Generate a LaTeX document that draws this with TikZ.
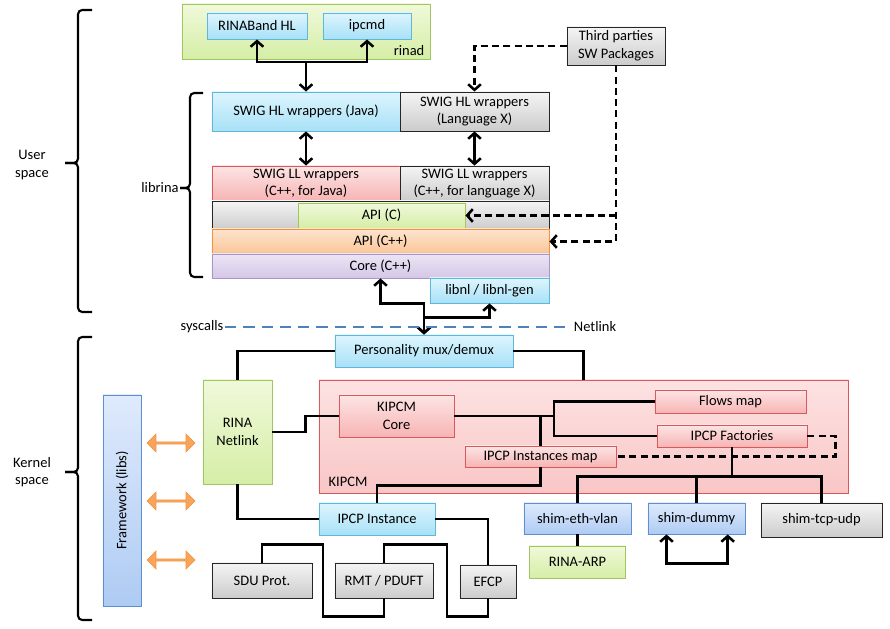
\documentclass[tikz,border=0pt]{standalone}
\usepackage{fontspec}
\setmainfont{Carlito}
\usetikzlibrary{arrows.meta,shapes.arrows}

\definecolor{bluetop}{HTML}{DDF5FE}
\definecolor{bluebot}{HTML}{A8E1F7}
\definecolor{blueline}{HTML}{62B6D8}
\definecolor{shimtop}{HTML}{DFEAFC}
\definecolor{shimbot}{HTML}{AECBF3}
\definecolor{shimline}{HTML}{5F8FD0}
\definecolor{greentop}{HTML}{F0F9DA}
\definecolor{greenbot}{HTML}{D5EEA6}
\definecolor{greenline}{HTML}{A0C561}
\definecolor{pinktop}{HTML}{FDE4E4}
\definecolor{pinkbot}{HTML}{F7B4B4}
\definecolor{pinkline}{HTML}{D65A5C}
\definecolor{kipcmtop}{HTML}{FDE2E2}
\definecolor{kipcmbot}{HTML}{F9C6C6}
\definecolor{graytop}{HTML}{F4F4F4}
\definecolor{graybot}{HTML}{CCCCCC}
\definecolor{orangetop}{HTML}{FDE4CE}
\definecolor{orangebot}{HTML}{FAC597}
\definecolor{orangeline}{HTML}{F3923E}
\definecolor{purpletop}{HTML}{ECE5F5}
\definecolor{purplebot}{HTML}{D4C7E7}
\definecolor{purpleline}{HTML}{A996C8}
\definecolor{syscallblue}{HTML}{4F81BD}
\definecolor{arroworange}{HTML}{F8A45C}

\begin{document}
\begin{tikzpicture}[x=0.025cm, y=-0.025cm,
        box/.style={draw, inner sep=1pt, align=center, font=\fontsize{10.3}{12.5}\selectfont, line width=0.6pt},
        bluebox/.style={box, draw=blueline, top color=bluetop, bottom color=bluebot},
        shimbox/.style={box, draw=shimline, top color=shimtop, bottom color=shimbot},
        greenbox/.style={box, draw=greenline, top color=greentop, bottom color=greenbot},
        pinkbox/.style={box, draw=pinkline, top color=pinktop, bottom color=pinkbot},
        graybox/.style={box, draw=black!85, top color=graytop, bottom color=graybot},
        note/.style={font=\fontsize{10.3}{12.5}\selectfont, align=center, inner sep=1pt},
        conn/.style={line width=1.8pt, >={Straight Barb[length=4pt,width=9pt]}},
        dconn/.style={conn, dash pattern=on 5pt off 3pt},
        syscall/.style={syscallblue, line width=1.4pt, dash pattern=on 8pt off 5pt},
        bracket/.style={line width=1.5pt, rounded corners=3pt},
        fatarrow/.style={double arrow, draw=orangeline, fill=arroworange, inner sep=0pt,
            minimum height=1.2cm, minimum width=0.45cm, double arrow head extend=0.05cm}
    ]
    \useasboundingbox (0,0) rectangle (890,629);

    % User / Kernel space brackets
    \draw[bracket] (92,10) -- (78,10) -- (78,163) -- (65,163);
    \draw[bracket] (65,163) -- (78,163) -- (78,312) -- (92,312);
    \node[note] (user) at (32,165) {User\\space};
    \draw[bracket] (92,337) -- (78,337) -- (78,472) -- (65,472);
    \draw[bracket] (65,472) -- (78,472) -- (78,620) -- (92,620);
    \node[note] (kernel) at (32,472) {Kernel\\space};

    % rinad
    \node[greenbox, minimum width=6.2cm, minimum height=1.375cm] (rinad) at (306,31.5) {};
    \node[note, anchor=south east] (rinadlbl) at (426,57) {rinad};
    \node[bluebox, minimum width=2.5cm, minimum height=0.65cm] (rinaband) at (257,26) {RINABand HL};
    \node[bluebox, minimum width=2.2cm, minimum height=0.65cm] (ipcmd) at (367,26) {ipcmd};
    \coordinate (rinadjoin) at (306,62);

    % Third parties
    \node[graybox, minimum width=2.45cm, minimum height=0.95cm] (third) at (616,46) {Third parties\\SW Packages};

    % librina
    \draw[bracket] (203,93) -- (190,93) -- (190,188) -- (180,188);
    \draw[bracket] (180,188) -- (190,188) -- (190,277) -- (203,277);
    \node[note] (librina) at (160,188) {librina};
    \node[bluebox, minimum width=4.7cm, minimum height=0.975cm] (hljava) at (306,111.5) {SWIG HL wrappers (Java)};
    \node[graybox, minimum width=3.725cm, minimum height=0.975cm] (hlx) at (474.5,111.5) {SWIG HL wrappers\\(Language X)};
    \node[pinkbox, minimum width=4.7cm, minimum height=0.875cm] (lljava) at (306,183.5) {SWIG LL wrappers\\(C++, for Java)};
    \node[graybox, minimum width=3.725cm, minimum height=0.875cm] (llx) at (474.5,183.5) {SWIG LL wrappers\\(C++, for language X)};
    \node[graybox, minimum width=8.425cm, minimum height=0.7cm] (apirow) at (380.5,215) {};
    \node[greenbox, minimum width=4.175cm, minimum height=0.625cm] (apic) at (381.5,215.5) {API (C)};
    \node[box, draw=orangeline, top color=orangetop, bottom color=orangebot,
        minimum width=8.425cm, minimum height=0.625cm] (apicpp) at (380.5,241.5) {API (C++)};
    \node[box, draw=purpleline, top color=purpletop, bottom color=purplebot,
        minimum width=8.425cm, minimum height=0.6cm] (core) at (380.5,266) {Core (C++)};
    \node[bluebox, minimum width=2.975cm, minimum height=0.625cm] (libnl) at (489.5,290.5) {libnl / libnl-gen};

    % syscalls / Netlink
    \node[note] (syscalls) at (202,327) {syscalls};
    \node[note] (netlinklbl) at (595,327) {Netlink};

    % Kernel
    \node[bluebox, minimum width=4.45cm, minimum height=0.8cm] (perso) at (424,351) {Personality mux/demux};
    \node[greenbox, minimum width=1.725cm, minimum height=2.6cm] (netlink) at (237.5,432) {RINA\\Netlink};
    \node[shimbox, rotate=90, minimum width=5.275cm, minimum height=0.95cm] (framework) at (122,500.5) {Framework (libs)};
    \foreach \y/\n in {443/1,501/2,560/3} {
        \node[fatarrow] (fw\n) at (171,\y) {};
    }

    % KIPCM
    \node[box, draw=pinkline, top color=kipcmtop, bottom color=kipcmbot,
        minimum width=13.225cm, minimum height=2.825cm] (kipcm) at (583.5,436.5) {};
    \node[note] (kipcmlbl) at (348,482) {KIPCM};
    \node[pinkbox, minimum width=2.875cm, minimum height=1.05cm] (kcore) at (396.5,416) {KIPCM\\Core};
    \node[pinkbox, minimum width=3.775cm, minimum height=0.575cm] (flows) at (730.5,401.5) {Flows map};
    \node[pinkbox, minimum width=3.75cm, minimum height=0.55cm] (factories) at (732,436) {IPCP Factories};
    \node[pinkbox, minimum width=3.775cm, minimum height=0.525cm] (instmap) at (540.5,456.5) {IPCP Instances map};
    \coordinate (kjoin) at (554,416);

    % IPCP Instance
    \node[bluebox, minimum width=2.9cm, minimum height=0.8cm] (ipcpinst) at (377,519) {IPCP Instance};
    \node[graybox, minimum width=2.5cm, minimum height=0.875cm] (sdu) at (262,580.5) {SDU Prot.};
    \node[graybox, minimum width=2.45cm, minimum height=0.875cm] (rmt) at (384,580.5) {RMT / PDUFT};
    \node[graybox, minimum width=1.4cm, minimum height=0.825cm] (efcp) at (488,581.5) {EFCP};

    % Shims
    \node[shimbox, minimum width=2.675cm, minimum height=0.775cm] (shimeth) at (577.5,518.5) {shim-eth-vlan};
    \node[shimbox, minimum width=2.425cm, minimum height=0.775cm] (shimdummy) at (696.5,518.5) {shim-dummy};
    \node[graybox, minimum width=3.025cm, minimum height=0.85cm] (shimtcp) at (821.5,520) {shim-tcp-udp};
    \node[greenbox, minimum width=2.4cm, minimum height=0.8cm] (rinaarp) at (577.5,562) {RINA-ARP};

    % Connections: user space
    \draw[conn,<->] (rinaband.south) -- (rinaband.south |- rinadjoin) -| (ipcmd.south);
    \draw[conn,->] (rinadjoin) -- (hljava.north);
    \draw[dconn,->] (third.west) -| (hlx.north);
    \draw[dconn,->] (third.south) |- (apicpp.east);
    \draw[dconn,->] (third.south |- apic.east) -- (apic.east);
    \draw[conn,<->] (hljava) -- (lljava);
    \draw[conn,<->] (hlx) -- (llx);
    \draw[conn,<->] (core.south) -- ++(0,25) -| (perso.north);
    \draw[conn,<->] (libnl.south) -- ++(0,14) -| (perso.north);
    \draw[syscall] (syscalls) -- (netlinklbl);

    % Connections: kernel
    \draw[conn] (perso.west) -| (netlink.north);
    \draw[conn] (perso.east) -| (kipcm.north);
    \draw[conn] (netlink.east) -- ++(33,0) |- (kcore.west);
    \draw[conn] (kcore.east) -- (kjoin);
    \draw[conn] (flows.west) -| (kjoin) |- (factories.west);
    \draw[conn] (kcore.east -| instmap.north) -- (instmap.north);
    \draw[conn] (instmap.south) -- ++(0,18) -| (ipcpinst.north);
    \draw[dconn] (factories.east) -- ++(28,0) |- (instmap.east);
    \foreach \s in {shimeth,shimdummy,shimtcp} {
        \draw[conn] (factories.south) -- ++(0,29) -| (\s.north);
    }
    \draw[conn] (shimeth) -- (rinaarp);
    \draw[conn,<->] ([xshift=-0.75cm]shimdummy.south) -- ++(0,29) -| ([xshift=0.78cm]shimdummy.south);
    \draw[conn] (netlink.south) |- (ipcpinst.west);
    \draw[conn] (ipcpinst.east) -| (efcp.north);
    \draw[conn] (sdu.north) -- ++(0,-18) -| ++(61,72) -| (rmt.south);
    \draw[conn] (rmt.north) -- ++(0,-18) -| ++(63,72) -| (efcp.south);

\end{tikzpicture}
\end{document}
